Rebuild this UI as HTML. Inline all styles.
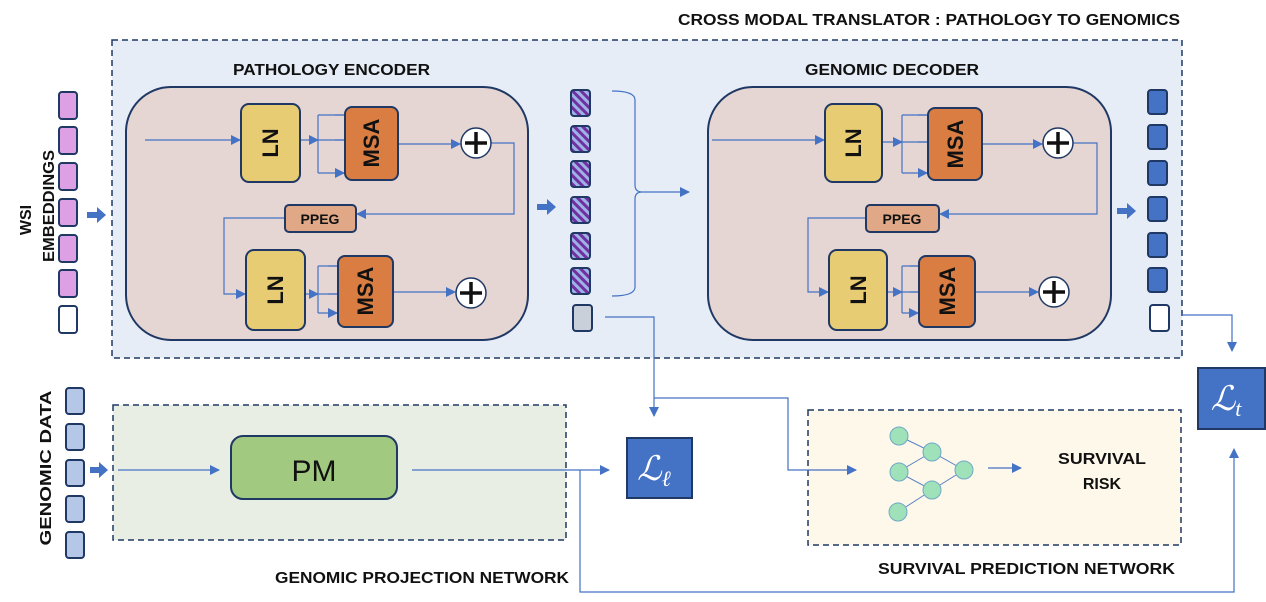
<!DOCTYPE html>
<html><head><meta charset="utf-8"><style>
html,body{margin:0;padding:0;background:#fff;}
svg{display:block;}
text{font-family:"Liberation Sans",sans-serif;font-weight:bold;fill:#111;}
</style></head><body>
<svg width="1266" height="602" viewBox="0 0 1266 602" xmlns="http://www.w3.org/2000/svg">
<defs>
<marker id="a" markerWidth="10" markerHeight="10" refX="9" refY="5" orient="auto" markerUnits="userSpaceOnUse"><path d="M0,0 L10,5 L0,10 z" fill="#4472c4"/></marker>
<pattern id="st" width="6" height="6" patternUnits="userSpaceOnUse" patternTransform="rotate(-45)"><rect width="6" height="6" fill="#7030a0"/><rect width="3" height="6" fill="#9db3e6"/></pattern>
</defs>
<text x="678" y="25" font-size="16" textLength="502" lengthAdjust="spacingAndGlyphs">CROSS MODAL TRANSLATOR : PATHOLOGY TO GENOMICS</text>
<rect x="112" y="40" width="1070" height="318" fill="#e6edf7" stroke="#1f3864" stroke-width="1.5" stroke-dasharray="6,4"/>
<text x="233" y="75" font-size="16" textLength="197" lengthAdjust="spacingAndGlyphs">PATHOLOGY ENCODER</text>
<text x="805" y="75" font-size="16" textLength="174" lengthAdjust="spacingAndGlyphs">GENOMIC DECODER</text>
<!-- encoders -->
<rect x="126" y="87" width="402" height="253" rx="45" fill="#e5d6d3" stroke="#1f3864" stroke-width="2"/>
<rect x="708" y="87" width="403" height="253" rx="45" fill="#e5d6d3" stroke="#1f3864" stroke-width="2"/>
<!-- bottom boxes -->
<rect x="113" y="405" width="453" height="135" fill="#e9eee4" stroke="#1f3864" stroke-width="1.5" stroke-dasharray="6,4"/>
<rect x="231" y="436" width="166" height="63" rx="12" fill="#a1c980" stroke="#1f3864" stroke-width="2"/>
<text x="314" y="481" font-size="30" text-anchor="middle" style="font-weight:normal">PM</text>
<text x="275" y="583" font-size="16" textLength="294" lengthAdjust="spacingAndGlyphs">GENOMIC PROJECTION NETWORK</text>
<rect x="808" y="410" width="373" height="135" fill="#fdf8ea" stroke="#1f3864" stroke-width="1.5" stroke-dasharray="6,4"/>
<text x="878" y="574" font-size="16" textLength="297" lengthAdjust="spacingAndGlyphs">SURVIVAL PREDICTION  NETWORK</text>
<text x="1102" y="464" font-size="16" text-anchor="middle" textLength="88" lengthAdjust="spacingAndGlyphs">SURVIVAL</text>
<text x="1102" y="489" font-size="16" text-anchor="middle">RISK</text>
<g fill="none" stroke="#4472c4" stroke-width="1.2">
<!-- enc -->
<path d="M145,140 H240" marker-end="url(#a)"/>
<path d="M300,140 H318" marker-end="url(#a)"/>
<path d="M318,115 V173 M318,115 H344 M318,140 H344 M318,173 H344"/>
<path d="M335,115 H344 M335,140 H344 M335,173 H344" marker-end="url(#a)"/>
<path d="M398,144 H460" marker-end="url(#a)"/>
<path d="M491,143 H514 V214 H357" marker-end="url(#a)"/>
<path d="M285,218 H224 V294 H245" marker-end="url(#a)"/>
<path d="M305,294 H318" marker-end="url(#a)"/>
<path d="M318,266 V313 M318,266 H337 M318,294 H337 M318,313 H337"/>
<path d="M328,266 H337 M328,294 H337 M328,313 H337" marker-end="url(#a)"/>
<path d="M393,292 H455" marker-end="url(#a)"/>
<!-- dec -->
<path d="M712,140 H824" marker-end="url(#a)"/>
<path d="M882,142 H902" marker-end="url(#a)"/>
<path d="M902,115 V173 M902,115 H927 M902,142 H927 M902,173 H927"/>
<path d="M918,115 H927 M918,142 H927 M918,173 H927" marker-end="url(#a)"/>
<path d="M982,144 H1042" marker-end="url(#a)"/>
<path d="M1073,143 H1097 V214 H940" marker-end="url(#a)"/>
<path d="M866,218 H808 V292 H828" marker-end="url(#a)"/>
<path d="M887,292 H902" marker-end="url(#a)"/>
<path d="M902,266 V313 M902,266 H918 M902,292 H918 M902,313 H918"/>
<path d="M910,266 H918 M910,292 H918 M910,313 H918" marker-end="url(#a)"/>
<path d="M975,292 H1038" marker-end="url(#a)"/>
<!-- brace -->
<path d="M612,91 Q635,91 635,100 V185 Q635,192 642,192 Q635,192 635,199 V287 Q635,296 612,296"/>
<path d="M642,192 H689" marker-end="url(#a)"/>
<!-- external -->
<path d="M605,317 H654 V416" marker-end="url(#a)"/>
<path d="M654,398 H788 V470 H856" marker-end="url(#a)"/>
<path d="M1182,315 H1232 V351" marker-end="url(#a)"/>
<path d="M118,470 H219" marker-end="url(#a)"/>
<path d="M412,470 H609" marker-end="url(#a)"/>
<path d="M580,470 V592 H1234 V449" marker-end="url(#a)"/>
<path d="M988,468 H1021" marker-end="url(#a)"/>
</g>
<!-- blocks -->
<g stroke="#1f3864" stroke-width="2">
<rect x="241" y="104" width="59" height="78" rx="8" fill="#e8cc74"/>
<rect x="345" y="107" width="53" height="73" rx="7" fill="#d97d42"/>
<rect x="285" y="205" width="71" height="27" rx="4" fill="#e0a887"/>
<rect x="246" y="250" width="59" height="80" rx="8" fill="#e8cc74"/>
<rect x="338" y="256" width="55" height="71" rx="7" fill="#d97d42"/>
<rect x="825" y="104" width="57" height="78" rx="8" fill="#e8cc74"/>
<rect x="928" y="108" width="54" height="72" rx="7" fill="#d97d42"/>
<rect x="866" y="205" width="73" height="27" rx="4" fill="#e0a887"/>
<rect x="829" y="250" width="58" height="80" rx="8" fill="#e8cc74"/>
<rect x="919" y="256" width="56" height="71" rx="7" fill="#d97d42"/>
</g>
<g font-size="22" text-anchor="middle">
<text transform="translate(270,143) rotate(-90)" dy="8">LN</text>
<text transform="translate(371,143) rotate(-90)" dy="8">MSA</text>
<text transform="translate(275,290) rotate(-90)" dy="8">LN</text>
<text transform="translate(365,291) rotate(-90)" dy="8">MSA</text>
<text transform="translate(853,143) rotate(-90)" dy="8">LN</text>
<text transform="translate(955,144) rotate(-90)" dy="8">MSA</text>
<text transform="translate(858,290) rotate(-90)" dy="8">LN</text>
<text transform="translate(947,291) rotate(-90)" dy="8">MSA</text>
</g>
<text x="320" y="224" font-size="14" text-anchor="middle">PPEG</text>
<text x="902" y="224" font-size="14" text-anchor="middle">PPEG</text>
<!-- plus circles -->
<g stroke="#1f3864" stroke-width="1.5" fill="#fff">
<circle cx="476" cy="143" r="15"/><circle cx="471" cy="293" r="15"/>
<circle cx="1058" cy="143" r="15"/><circle cx="1054" cy="292" r="15"/>
</g>
<g stroke="#111" stroke-width="3.5">
<path d="M465,143 H487 M476,132 V154"/><path d="M460,293 H482 M471,282 V304"/>
<path d="M1047,143 H1069 M1058,132 V154"/><path d="M1043,292 H1065 M1054,281 V303"/>
</g>
<!-- tokens -->
<g stroke="#1f3864" stroke-width="2">
<rect x="59" y="92" width="18" height="27" rx="3" fill="#dda0e4"/>
<rect x="59" y="127" width="18" height="27" rx="3" fill="#dda0e4"/>
<rect x="59" y="163" width="18" height="27" rx="3" fill="#dda0e4"/>
<rect x="59" y="199" width="18" height="27" rx="3" fill="#dda0e4"/>
<rect x="59" y="235" width="18" height="27" rx="3" fill="#dda0e4"/>
<rect x="59" y="270" width="18" height="27" rx="3" fill="#dda0e4"/>
<rect x="59" y="306" width="18" height="27" rx="3" fill="#fff"/>
<rect x="571" y="90" width="19" height="26" rx="3" fill="url(#st)"/>
<rect x="571" y="126" width="19" height="26" rx="3" fill="url(#st)"/>
<rect x="571" y="161" width="19" height="26" rx="3" fill="url(#st)"/>
<rect x="571" y="197" width="19" height="26" rx="3" fill="url(#st)"/>
<rect x="571" y="233" width="19" height="26" rx="3" fill="url(#st)"/>
<rect x="571" y="268" width="19" height="26" rx="3" fill="url(#st)"/>
<rect x="573" y="305" width="19" height="26" rx="3" fill="#c9d0d9"/>
<rect x="1148" y="90" width="19" height="24" rx="3" fill="#4472c4"/>
<rect x="1148" y="125" width="19" height="24" rx="3" fill="#4472c4"/>
<rect x="1148" y="161" width="19" height="24" rx="3" fill="#4472c4"/>
<rect x="1148" y="197" width="19" height="24" rx="3" fill="#4472c4"/>
<rect x="1148" y="233" width="19" height="24" rx="3" fill="#4472c4"/>
<rect x="1148" y="268" width="19" height="24" rx="3" fill="#4472c4"/>
<rect x="1150" y="305" width="19" height="26" rx="3" fill="#fff"/>
<rect x="66" y="388" width="18" height="26" rx="3" fill="#b4c7e7"/>
<rect x="66" y="424" width="18" height="26" rx="3" fill="#b4c7e7"/>
<rect x="66" y="460" width="18" height="26" rx="3" fill="#b4c7e7"/>
<rect x="66" y="496" width="18" height="26" rx="3" fill="#b4c7e7"/>
<rect x="66" y="532" width="18" height="26" rx="3" fill="#b4c7e7"/>
</g>
<!-- fat arrows -->
<g fill="#4472c4">
<path d="M87,212 H97 V207 L106,215 L97,223 V218 H87 z"/>
<path d="M537,204 H547 V199 L556,207 L547,215 V210 H537 z"/>
<path d="M1117,208 H1127 V203 L1136,211 L1127,219 V214 H1117 z"/>
<path d="M90,467 H99 V462 L108,470 L99,478 V473 H90 z"/>
</g>
<text transform="translate(31,220) rotate(-90)" font-size="16" text-anchor="middle">WSI</text>
<text transform="translate(54,206) rotate(-90)" font-size="16" text-anchor="middle" textLength="112" lengthAdjust="spacingAndGlyphs">EMBEDDINGS</text>
<text transform="translate(51,468) rotate(-90)" font-size="16" text-anchor="middle" textLength="155" lengthAdjust="spacingAndGlyphs">GENOMIC DATA</text>
<g stroke="#5b84c4" stroke-width="1" fill="none">
<path d="M899,436 L932,452 L964,470 L932,490 L898,512 M932,452 L898,472 L932,490"/>
</g>
<g fill="#9fe1b8" stroke="#6fa8c8" stroke-width="1">
<circle cx="899" cy="436" r="9"/><circle cx="932" cy="452" r="9"/><circle cx="899" cy="472" r="9"/>
<circle cx="964" cy="470" r="9"/><circle cx="932" cy="490" r="9"/><circle cx="898" cy="512" r="9"/>
</g>
<!-- loss boxes -->
<rect x="627" y="438" width="65" height="60" fill="#4472c4" stroke="#1f3864" stroke-width="2"/>
<text x="654" y="480" font-size="34" style="fill:#fff;font-family:'Liberation Serif',serif;font-weight:normal;font-style:italic" text-anchor="middle">ℒ<tspan font-size="22" dy="6">ℓ</tspan></text>
<rect x="1198" y="368" width="67" height="61" fill="#4472c4" stroke="#1f3864" stroke-width="2"/>
<text x="1226" y="410" font-size="34" style="fill:#fff;font-family:'Liberation Serif',serif;font-weight:normal;font-style:italic" text-anchor="middle">ℒ<tspan font-size="22" dy="6">t</tspan></text>
</svg>
</body></html>
